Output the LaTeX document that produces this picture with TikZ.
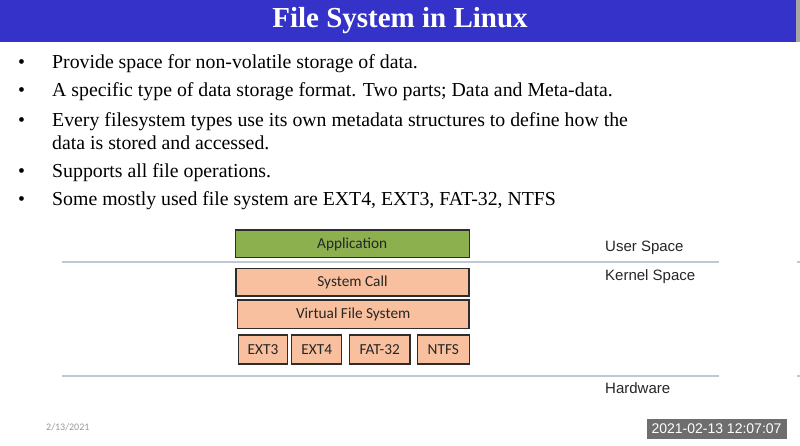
\documentclass[tikz,border=0pt]{standalone}
\usepackage{fontspec}
\setmainfont{Liberation Serif}
\newfontfamily\calib{Carlito}
\newfontfamily\arialf{Liberation Sans}
\definecolor{titleblue}{RGB}{52,50,200}
\definecolor{appgreen}{RGB}{141,176,79}
\definecolor{peach}{RGB}{248,192,158}
\definecolor{sepline}{RGB}{192,200,214}
\definecolor{boxedge}{RGB}{45,45,45}
\definecolor{stampgray}{RGB}{110,110,110}
\tikzset{
  bul/.style={anchor=base west,inner sep=0pt,font=\fontsize{19.8}{22}\selectfont},
  layer/.style={draw=boxedge,line width=1.4pt,inner sep=0pt,text height=10pt,text depth=1pt,font=\calib\fontsize{15.3}{17}\selectfont,text=black!85},
  greenbox/.style={layer,fill=appgreen},
  peachbox/.style={layer,fill=peach},
  spacelab/.style={anchor=base west,inner sep=0pt,font=\arialf\fontsize{15}{17}\selectfont,text=black!85},
  sep/.style={draw=sepline,line width=1.4pt}
}
\begin{document}
\begin{tikzpicture}[x=1pt,y=-1pt]
\useasboundingbox (0,0) rectangle (800,445);
\fill[white] (0,0) rectangle (800,445);
% title bar
\fill[titleblue] (0,0) rectangle (796,42);
\fill[gray!70] (796,0) rectangle (800,42);
\node[text=white,font=\bfseries\fontsize{29}{32}\selectfont,inner sep=0pt] (title) at (400,21) {File System in Linux};
% bullets
\foreach \y/\n in {68.3/b1,96.7/b2,126/b3,177.3/b4,205.7/b5}{
  \node[bul] (\n) at (18,\y) {•};
}
\node[bul] (t1) at (52,68.3) {Provide space for non-volatile storage of data.};
\node[bul] (t2) at (52,96.7) {A specific type of data storage format. Two parts; Data and Meta-data.};
\node[bul] (t3) at (52,126) {Every filesystem types use its own metadata structures to define how the};
\node[bul] (t3b) at (52,149.3) {data is stored and accessed.};
\node[bul] (t4) at (52,177.3) {Supports all file operations.};
\node[bul] (t5) at (52,205.7) {Some mostly used file system are EXT4, EXT3, FAT-32, NTFS};
% separator lines
\coordinate (l1a) at (62,262); \coordinate (l1b) at (719,262);
\coordinate (l2a) at (62,376); \coordinate (l2b) at (719,376);
\draw[sep] (l1a) -- (l1b);
\draw[sep] (l2a) -- (l2b);
\coordinate (f1a) at (797,262); \coordinate (f1b) at (800,262);
\coordinate (f2a) at (797,376); \coordinate (f2b) at (800,376);
\draw[sep] (f1a) -- (f1b);
\draw[sep] (f2a) -- (f2b);
% layers
\node[greenbox,minimum width=234pt,minimum height=27.5pt] (app) at (352.2,243.8) {Application};
\node[peachbox,minimum width=233pt,minimum height=27.7pt] (sys) at (352.5,282.2) {System Call};
\node[peachbox,minimum width=231.7pt,minimum height=28.3pt] (vfs) at (353.2,314.2) {Virtual File System};
\node[peachbox,minimum width=49.4pt,minimum height=29pt] (ext3) at (263,349.5) {EXT3};
\node[peachbox,minimum width=50pt,minimum height=29pt] (ext4) at (316.7,349.5) {EXT4};
\node[peachbox,minimum width=60.7pt,minimum height=29pt] (fat) at (379.7,349.5) {FAT-32};
\node[peachbox,minimum width=52pt,minimum height=29pt] (ntfs) at (443.3,349.5) {NTFS};
% space labels
\node[spacelab] (user) at (605,251.7) {User Space};
\node[spacelab] (kern) at (605,280) {Kernel Space};
\node[spacelab] (hw) at (605,393.3) {Hardware};
% footer
\node[anchor=west,inner sep=0pt,text=gray!80,font=\calib\fontsize{10}{12}\selectfont] (date) at (46,427) {2/13/2021};
\node[fill=stampgray,text=white,font=\arialf\fontsize{14}{15}\selectfont,minimum width=140pt,minimum height=19.5pt,inner sep=0pt] (stamp) at (716.5,428.8) {2021-02-13 12:07:07};
\end{tikzpicture}
\end{document}
